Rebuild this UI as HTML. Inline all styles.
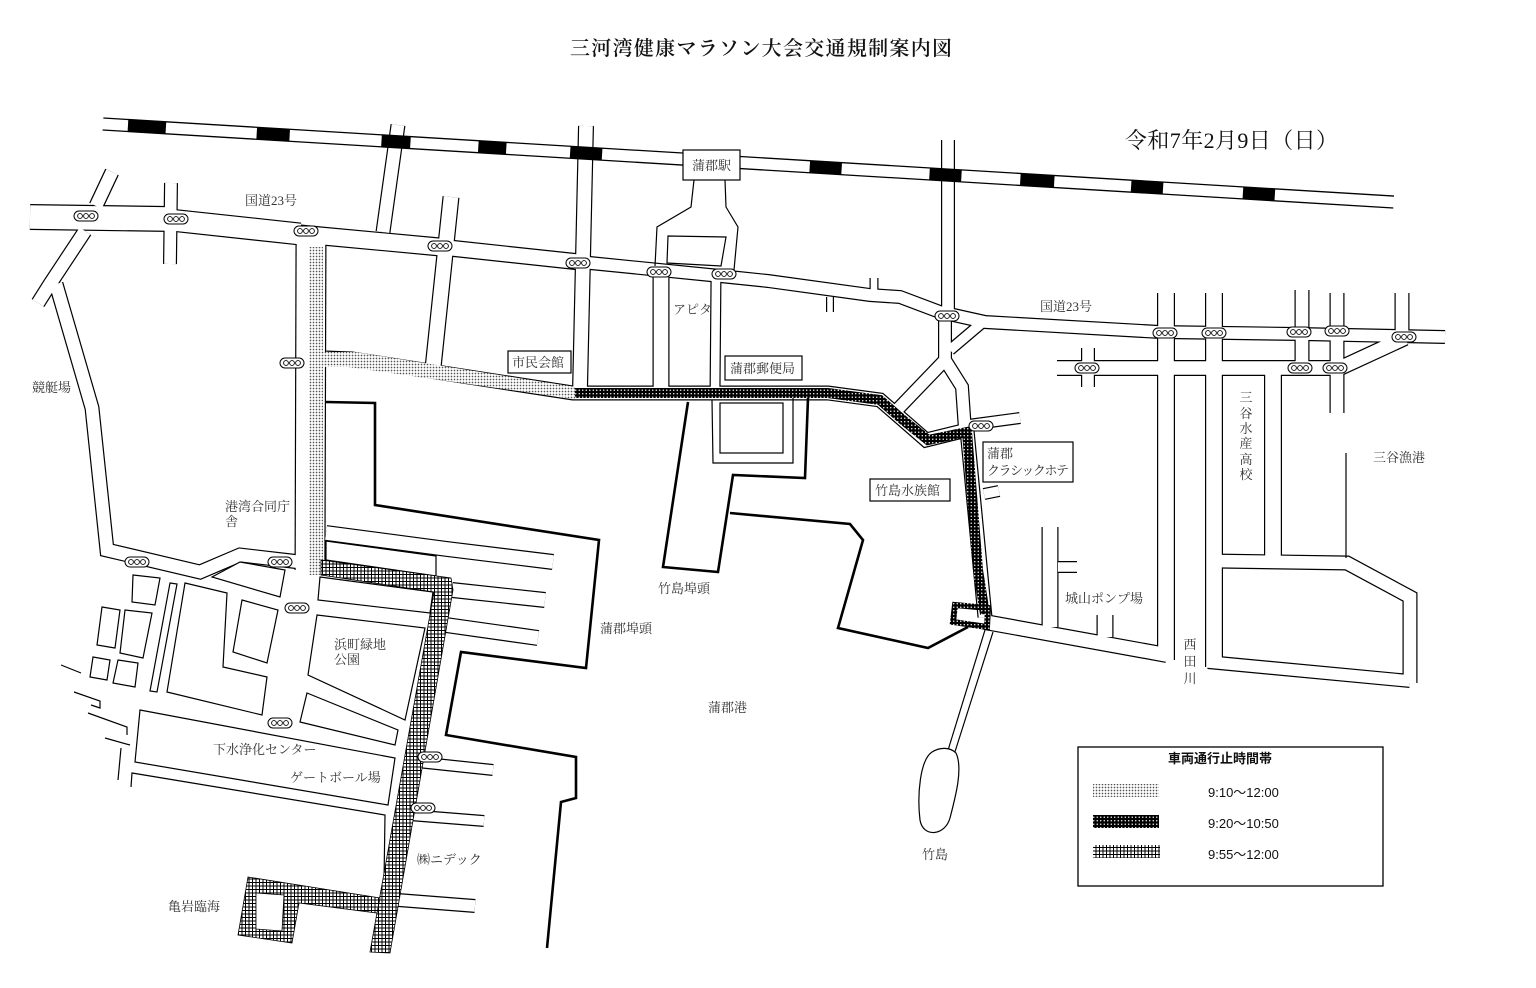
<!DOCTYPE html>
<html><head><meta charset="utf-8"><style>
html,body{margin:0;padding:0;background:#fff;}
svg{display:block}
.t{font-family:"Liberation Serif","Noto Serif CJK SC",serif;font-size:13px;fill:#333}
.s{font-family:"Liberation Sans","Noto Sans CJK JP",sans-serif;fill:#111}
</style></head><body>
<svg width="1536" height="988" viewBox="0 0 1536 988" xmlns="http://www.w3.org/2000/svg">
<defs>
<pattern id="dot" width="3" height="3" patternUnits="userSpaceOnUse"><rect width="3" height="3" fill="#fff"/><circle cx="1.5" cy="1.5" r="0.85" fill="#555"/></pattern>
<pattern id="bd" width="3.5" height="3.5" patternUnits="userSpaceOnUse"><rect width="3.5" height="3.5" fill="#000"/><circle cx="1.75" cy="1.75" r="0.7" fill="#fff"/></pattern>
<pattern id="grid" width="3.5" height="3.5" patternUnits="userSpaceOnUse"><rect width="3.5" height="3.5" fill="#fff"/><path d="M0,0.5H3.5M0.5,0V3.5" stroke="#000" stroke-width="1"/></pattern>
<g id="sig"><rect x="-12" y="-5" width="24" height="10" rx="5" fill="#fff" stroke="#000" stroke-width="1"/><circle cx="-6" cy="0" r="2.4" fill="none" stroke="#000" stroke-width="0.9"/><circle cx="0" cy="0" r="2.4" fill="none" stroke="#000" stroke-width="0.9"/><circle cx="6" cy="0" r="2.4" fill="none" stroke="#000" stroke-width="0.9"/></g>
</defs>
<rect width="1536" height="988" fill="#fff"/>

<text x="761" y="55" text-anchor="middle" class="t" style="font-size:20px;fill:#111;font-weight:600" textLength="382">三河湾健康マラソン大会交通規制案内図</text>
<text x="1125" y="148" class="t" style="font-size:22px;fill:#111" textLength="213">令和7年2月9日（日）</text>

<!-- roads: black -->
<g fill="none" stroke="#000" stroke-linejoin="miter">
<path d="M30,217 L170,219" stroke-width="26"/>
<path d="M170,220 L300,234" stroke-width="23"/>
<path d="M300,234 L440,247" stroke-width="19"/>
<path d="M440,247 L580,262" stroke-width="17"/>
<path d="M580,262 L720,276 L768,281 L870,295 L900,297 L940,312 L985,322 L1160,332 L1300,334 L1445,337" stroke-width="14"/>
<path d="M112,172 L96,206" stroke-width="15"/>
<path d="M85,231 L50,284 L38,303" stroke-width="15"/>
<path d="M56,284 L92,408 L107,550 L200,572 L240,555 L300,562" stroke-width="15"/>
<path d="M171,183 L170,264" stroke-width="14"/>
<path d="M311,238 L310,570" stroke-width="31"/>
<path d="M398,125 L383,232" stroke-width="15"/>
<path d="M451,197 L433,368" stroke-width="17"/>
<path d="M586,126 L580,390" stroke-width="16"/>
<path d="M661,272 L661,393" stroke-width="17"/>
<path d="M716,276 L715,393" stroke-width="11"/>
<path d="M326,358 L352,359 L573,393 L828,393 L880,400 L926,440 L967,430 L985,617" stroke-width="15"/>
<path d="M948,140 L948,318" stroke-width="14"/>
<path d="M945,316 L945,360 L897,410" stroke-width="14"/>
<path d="M945,360 L962,387 L965,430" stroke-width="14"/>
<path d="M950,350 L983,322" stroke-width="12"/>
<path d="M968,425 L1020,418" stroke-width="12"/>
<path d="M984,494 L999,491" stroke-width="12"/>
<path d="M985,622 L1167,655" stroke-width="16"/>
<path d="M1050,527 L1050,627" stroke-width="17"/>
<path d="M1058,567 L1077,567" stroke-width="12"/>
<path d="M1105,615 L1105,637" stroke-width="17"/>
<path d="M1166,293 L1166,660" stroke-width="18"/>
<path d="M1214,293 L1214,667" stroke-width="18"/>
<path d="M1208,662 L1410,681" stroke-width="14"/>
<path d="M1410,683 L1410,597 L1347,563 L1214,561" stroke-width="15"/>
<path d="M1273,368 L1273,561" stroke-width="18"/>
<path d="M1057,368 L1340,368 L1405,338" stroke-width="16"/>
<path d="M1337,293 L1337,413" stroke-width="15"/>
<path d="M1302,290 L1302,368" stroke-width="15"/>
<path d="M1402,293 L1402,335" stroke-width="15"/>
<path d="M1088,348 L1088,387" stroke-width="14"/>
<path d="M874,278 L874,293" stroke-width="9"/>
<path d="M830,297 L830,312" stroke-width="8"/>
<path d="M326,533 L447,549 L553,562" stroke-width="16"/>
<path d="M452,590 L545,600" stroke-width="16"/>
<path d="M446,625 L538,638" stroke-width="16"/>
<path d="M417,762 L493,770" stroke-width="12"/>
<path d="M409,815 L484,821" stroke-width="12"/>
<path d="M398,900 L475,906" stroke-width="14"/>
</g>
<g fill="none" stroke="#fff" stroke-linejoin="miter">
<path d="M30,217 L170,219" stroke-width="23.6"/>
<path d="M170,220 L300,234" stroke-width="20.6"/>
<path d="M300,234 L440,247" stroke-width="16.6"/>
<path d="M440,247 L580,262" stroke-width="14.6"/>
<path d="M580,262 L720,276 L768,281 L870,295 L900,297 L940,312 L985,322 L1160,332 L1300,334 L1445,337" stroke-width="11.6"/>
<path d="M112,172 L96,206" stroke-width="12.6"/>
<path d="M85,231 L50,284 L38,303" stroke-width="12.6"/>
<path d="M56,284 L92,408 L107,550 L200,572 L240,555 L300,562" stroke-width="12.6"/>
<path d="M171,183 L170,264" stroke-width="11.6"/>
<path d="M311,238 L310,570" stroke-width="28.6"/>
<path d="M398,125 L383,232" stroke-width="12.6"/>
<path d="M451,197 L433,368" stroke-width="14.6"/>
<path d="M586,126 L580,390" stroke-width="13.6"/>
<path d="M661,272 L661,393" stroke-width="14.6"/>
<path d="M716,276 L715,393" stroke-width="8.6"/>
<path d="M326,358 L352,359 L573,393 L828,393 L880,400 L926,440 L967,430 L985,617" stroke-width="12.6"/>
<path d="M948,140 L948,318" stroke-width="11.6"/>
<path d="M945,316 L945,360 L897,410" stroke-width="11.6"/>
<path d="M945,360 L962,387 L965,430" stroke-width="11.6"/>
<path d="M950,350 L983,322" stroke-width="9.6"/>
<path d="M968,425 L1020,418" stroke-width="9.6"/>
<path d="M984,494 L999,491" stroke-width="9.6"/>
<path d="M985,622 L1167,655" stroke-width="13.6"/>
<path d="M1050,527 L1050,627" stroke-width="14.6"/>
<path d="M1058,567 L1077,567" stroke-width="9.6"/>
<path d="M1105,615 L1105,637" stroke-width="14.6"/>
<path d="M1166,293 L1166,660" stroke-width="15.6"/>
<path d="M1214,293 L1214,667" stroke-width="15.6"/>
<path d="M1208,662 L1410,681" stroke-width="11.6"/>
<path d="M1410,683 L1410,597 L1347,563 L1214,561" stroke-width="12.6"/>
<path d="M1273,368 L1273,561" stroke-width="15.6"/>
<path d="M1057,368 L1340,368 L1405,338" stroke-width="13.6"/>
<path d="M1337,293 L1337,413" stroke-width="12.6"/>
<path d="M1302,290 L1302,368" stroke-width="12.6"/>
<path d="M1402,293 L1402,335" stroke-width="12.6"/>
<path d="M1088,348 L1088,387" stroke-width="11.6"/>
<path d="M874,278 L874,293" stroke-width="6.6"/>
<path d="M830,297 L830,312" stroke-width="5.6"/>
<path d="M326,533 L447,549 L553,562" stroke-width="13.6"/>
<path d="M452,590 L545,600" stroke-width="13.6"/>
<path d="M446,625 L538,638" stroke-width="13.6"/>
<path d="M417,762 L493,770" stroke-width="9.6"/>
<path d="M409,815 L484,821" stroke-width="9.6"/>
<path d="M398,900 L475,906" stroke-width="11.6"/>
</g>

<!-- railway (on top of roads) -->
<g transform="rotate(3.46 103 124)">
<rect x="103" y="118" width="1293" height="12" fill="#fff"/>
<line x1="103" y1="118" x2="1396" y2="118" stroke="#000" stroke-width="1.3"/>
<line x1="103" y1="130" x2="1396" y2="130" stroke="#000" stroke-width="1.3"/>
<g fill="#000">
<rect x="128" y="118" width="38" height="12"/><rect x="257" y="118" width="33" height="12"/><rect x="382" y="118" width="29" height="12"/><rect x="479" y="118" width="28" height="12"/><rect x="571" y="118" width="32" height="12"/><rect x="811" y="118" width="32" height="12"/><rect x="931" y="118" width="32" height="12"/><rect x="1022" y="118" width="34" height="12"/><rect x="1133" y="118" width="32" height="12"/><rect x="1245" y="118" width="32" height="12"/>
</g></g>

<g fill="none" stroke="#000" stroke-width="1.2">
<polyline points="694,180 691,207 657,227 655,266"/>
<polyline points="725,180 726,207 738,227 734,270"/>
<polygon points="668,236 726,237 721,266 667,263" fill="#fff"/>
<polyline points="712,400 713,463 793,463 793,398"/>
<rect x="720" y="403" width="63" height="50"/>
<line x1="1346" y1="453" x2="1346" y2="558"/>
<line x1="985" y1="630" x2="945" y2="760"/>
<line x1="993" y1="632" x2="953" y2="758"/>
<path d="M932,752 C920,760 917,795 920,820 C923,838 945,836 950,818 C956,795 963,768 956,753 C950,747 940,747 932,752 Z" fill="#fff"/>
<g fill="#fff">
<polygon points="133,575 160,578 155,605 132,602"/>
<polygon points="102,607 120,610 115,648 97,645"/>
<polygon points="125,610 152,613 143,658 120,653"/>
<polygon points="93,657 110,660 107,680 90,677"/>
<polygon points="118,660 138,663 135,687 113,683"/>
<polygon points="170,583 177,584 157,692 150,691"/>
<polygon points="185,583 227,593 223,667 267,677 262,715 167,692"/>
<polygon points="242,600 278,610 267,663 233,652"/>
<polygon points="212,577 240,562 285,570 280,597"/>
<polygon points="326,541 436,556 436,576 326,560"/>
<polygon points="320,577 433,592 430,613 318,600"/>
<polygon points="317,615 425,628 405,720 308,675"/>
<polygon points="307,693 398,730 395,745 300,722"/>
<polygon points="140,710 395,758 388,805 135,762"/>
</g>
<polyline points="131,787 132,773 385,815 383,950"/>
<polyline points="61,665 81,673"/>
<polyline points="74,692 100,701 100,708 91,705"/>
<polyline points="88,713 127,727 127,735"/>
<polyline points="105,738 130,745"/>
<polyline points="118,780 121,748"/>
</g>

<g fill="none" stroke="#000" stroke-width="2.6" stroke-linejoin="miter">
<polyline points="326,402 375,403 375,505 599,540 586,668 461,652 446,735 576,757 576,798 561,802 547,948"/>
<polyline points="688,402 663,567 718,572 733,475 805,478 808,398"/>
<polyline points="730,513 850,524 863,540 838,628 928,648 968,627"/>
</g>

<polygon points="309,247 323,247 323,575 309,575" fill="url(#dot)"/>
<polygon points="323,352 355,352 575,387 575,399 348,367 323,367" fill="url(#dot)"/>
<path d="M575,393 L828,393 L880,400 L903,420 L928,440 L967,432 L978,570 L985,614" fill="none" stroke="url(#bd)" stroke-width="10"/>
<polygon points="955,605 988,608 987,627 953,622" fill="none" stroke="url(#bd)" stroke-width="6"/>
<polygon points="321,560 451,578 453,590 390,953 370,952 434,592 321,575" fill="url(#grid)" stroke="#000" stroke-width="0.8"/>
<path d="M248,877 L380,898 L377,913 L299,903 L292,943 L238,935 Z M256,893 L256,929 L282,931 L284,895 Z" fill="url(#grid)" fill-rule="evenodd" stroke="#000" stroke-width="0.8"/>

<g>
<use href="#sig" x="86" y="216"/><use href="#sig" x="176" y="219"/><use href="#sig" x="306" y="231"/><use href="#sig" x="440" y="246"/><use href="#sig" x="578" y="263"/><use href="#sig" x="659" y="272"/><use href="#sig" x="724" y="274"/><use href="#sig" x="292" y="363"/><use href="#sig" x="947" y="316"/><use href="#sig" x="981" y="426"/><use href="#sig" x="1165" y="333"/><use href="#sig" x="1214" y="333"/><use href="#sig" x="1299" y="332"/><use href="#sig" x="1337" y="331"/><use href="#sig" x="1404" y="337"/><use href="#sig" x="1087" y="368"/><use href="#sig" x="1300" y="368"/><use href="#sig" x="1335" y="368"/><use href="#sig" x="137" y="562"/><use href="#sig" x="280" y="562"/><use href="#sig" x="297" y="608"/><use href="#sig" x="280" y="723"/><use href="#sig" x="430" y="757"/><use href="#sig" x="423" y="808"/>
</g>

<g fill="#fff" stroke="#000" stroke-width="1.2">
<rect x="683" y="150" width="57" height="30"/>
<rect x="508" y="351" width="63" height="22"/>
<rect x="725" y="356" width="77" height="24"/>
<rect x="870" y="479" width="80" height="22"/>
<rect x="983" y="442" width="90" height="40"/>
</g>

<g class="t">
<text x="692" y="170">蒲郡駅</text>
<text x="245" y="205">国道23号</text>
<text x="1040" y="311">国道23号</text>
<text x="32" y="392">競艇場</text>
<text x="673" y="314">アピタ</text>
<text x="512" y="367">市民会館</text>
<text x="730" y="373">蒲郡郵便局</text>
<text x="875" y="495">竹島水族館</text>
<text x="987" y="458">蒲郡</text>
<text x="987" y="475" textLength="82">クラシックホテ</text>
<text x="1373" y="462">三谷漁港</text>
<text x="225" y="511">港湾合同庁</text>
<text x="225" y="526">舎</text>
<text x="658" y="593">竹島埠頭</text>
<text x="600" y="633">蒲郡埠頭</text>
<text x="334" y="649">浜町緑地</text>
<text x="334" y="664">公園</text>
<text x="1065" y="603">城山ポンプ場</text>
<text x="708" y="712">蒲郡港</text>
<text x="213" y="754">下水浄化センター</text>
<text x="290" y="782">ゲートボール場</text>
<text x="417" y="864">㈱ニデック</text>
<text x="168" y="911">亀岩臨海</text>
<text x="922" y="859">竹島</text>
<g text-anchor="middle">
<text x="1246" y="402">三</text><text x="1246" y="418">谷</text><text x="1246" y="433">水</text><text x="1246" y="448">産</text><text x="1246" y="464">高</text><text x="1246" y="479">校</text>
<text x="1190" y="649">西</text><text x="1190" y="666">田</text><text x="1190" y="683">川</text>
</g>
</g>

<rect x="1078" y="747" width="305" height="139" fill="#fff" stroke="#000" stroke-width="1.3"/>
<text x="1220" y="763" text-anchor="middle" class="s" style="font-size:13px;font-weight:bold">車両通行止時間帯</text>
<rect x="1093" y="784" width="66" height="13" fill="url(#dot)"/>
<rect x="1093" y="815" width="66" height="13" fill="url(#bd)"/>
<rect x="1093" y="845" width="67" height="13" fill="url(#grid)"/>
<g class="s" style="font-size:13px">
<text x="1208" y="797">9:10～12:00</text>
<text x="1208" y="828">9:20～10:50</text>
<text x="1208" y="859">9:55～12:00</text>
</g>
</svg>
</body></html>
